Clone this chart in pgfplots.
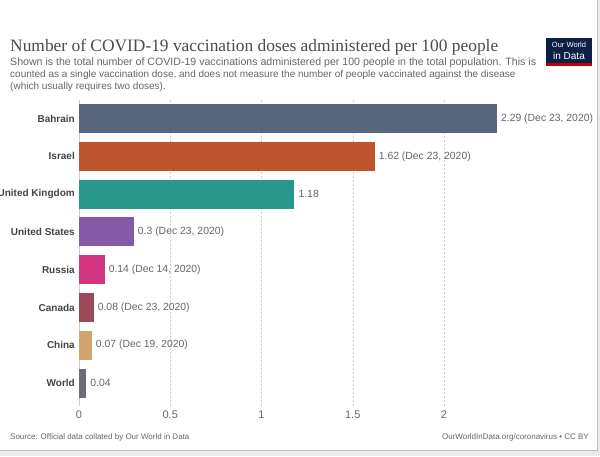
\documentclass[border=0pt]{standalone}
\usepackage{pgfplots}
\pgfplotsset{compat=1.18}
\usepackage{fontspec}
\setmainfont{Liberation Sans}
\newfontfamily\titlefont{Liberation Serif}
\definecolor{cBah}{HTML}{58657D}
\definecolor{cIsr}{HTML}{BF552E}
\definecolor{cUK}{HTML}{2A978C}
\definecolor{cUS}{HTML}{8659A6}
\definecolor{cRus}{HTML}{D3347F}
\definecolor{cCan}{HTML}{9C4A58}
\definecolor{cChn}{HTML}{D2A56E}
\definecolor{cWld}{HTML}{6C6D72}
\definecolor{txtgray}{HTML}{666666}
\definecolor{lblgray}{HTML}{444444}
\definecolor{owid}{HTML}{0B2045}
\begin{document}
\begin{tikzpicture}[x=1pt,y=1pt]
\useasboundingbox (0,0) rectangle (600,456);
\fill[white] (0,0) rectangle (600,456);
\fill[black!8] (597,0) rectangle (600,456);
\fill[black!8] (0,0) rectangle (600,6);
\draw[black!25,line width=0.8pt] (597,456) -- (597,6) -- (0,6);
% title
\node[anchor=base west,inner sep=0,text=black!70] at (10,404) {\titlefont\fontsize{17.4}{20}\selectfont Number of COVID-19 vaccination doses administered per 100 people};
\node[anchor=north west,inner sep=0,align=left,text=txtgray] at (10,398) {\fontsize{10.6}{13.2}\selectfont Shown is the total number of COVID-19 vaccinations administered per 100 people in the total population. This is\\counted as a single vaccination dose, and does not measure the number of people vaccinated against the disease\\(which usually requires two doses).};
% logo
\fill[owid] (546,393) rectangle (592,418);
\fill[red!75!black] (546,390) rectangle (592,393);
\node[text=white,align=center,inner sep=0] at (569,405.5) {\fontsize{7.5}{8.5}\selectfont Our World\\in Data};
% footer
\node[anchor=base west,inner sep=0,text=txtgray] at (10,17) {\fontsize{8}{10}\selectfont Source: Official data collated by Our World in Data};
\node[anchor=base east,inner sep=0,text=txtgray] at (589,17) {\fontsize{8}{10}\selectfont OurWorldInData.org/coronavirus • CC BY};
\begin{axis}[
  at={(79pt,54pt)}, anchor=south west,
  scale only axis, width=511pt, height=302.4pt,
  xmin=0, xmax=2.8, ymin=-0.5, ymax=7.5, y dir=reverse,
  axis lines=none,
  xbar, bar width=29pt,
  ytick={0,...,7},
  yticklabels={Bahrain,Israel,United Kingdom,United States,Russia,Canada,China,World},
  xtick={0,0.5,1,1.5,2},
  clip=false,
  point meta=explicit symbolic,
  nodes near coords,
  every node near coord/.append style={font=\fontsize{10.4}{12}\selectfont, text=txtgray, anchor=west, inner sep=0, xshift=4pt},
]
\foreach \xv in {0.5,1,1.5,2}{
  \edef\tmp{\noexpand\draw[black!20,dashed,dash pattern=on 2pt off 2pt] (axis cs:\xv,-0.5) -- (axis cs:\xv,7.6);}
  \tmp
}
\draw[black!20] (axis cs:0,-0.5) -- (axis cs:0,7.6);
\foreach \xv/\lab in {0/0,0.5/0.5,1/1,1.5/1.5,2/2}{
  \edef\tmp{\noexpand\node[text=txtgray,font=\noexpand\fontsize{11}{12}\noexpand\selectfont] at (axis cs:\xv,7.5) [yshift=-13pt] {\lab};}
  \tmp
}
\foreach \yv/\lab in {0/Bahrain,1/Israel,2/United Kingdom,3/United States,4/Russia,5/Canada,6/China,7/World}{
  \edef\tmp{\noexpand\node[anchor=east,text=lblgray,inner sep=0,font=\noexpand\bfseries\noexpand\fontsize{10}{11}\noexpand\selectfont] at (axis cs:0,\yv) [xshift=-4pt] {\lab};}
  \tmp
}
\addplot[fill=cBah,draw=none,bar shift=0pt] coordinates {(2.29,0) [2.29 (Dec 23, 2020)]};
\addplot[fill=cIsr,draw=none,bar shift=0pt] coordinates {(1.62,1) [1.62 (Dec 23, 2020)]};
\addplot[fill=cUK,draw=none,bar shift=0pt] coordinates {(1.18,2) [1.18]};
\addplot[fill=cUS,draw=none,bar shift=0pt] coordinates {(0.30,3) [0.3 (Dec 23, 2020)]};
\addplot[fill=cRus,draw=none,bar shift=0pt] coordinates {(0.14,4) [0.14 (Dec 14, 2020)]};
\addplot[fill=cCan,draw=none,bar shift=0pt] coordinates {(0.08,5) [0.08 (Dec 23, 2020)]};
\addplot[fill=cChn,draw=none,bar shift=0pt] coordinates {(0.07,6) [0.07 (Dec 19, 2020)]};
\addplot[fill=cWld,draw=none,bar shift=0pt] coordinates {(0.04,7) [0.04]};
\end{axis}
\end{tikzpicture}
\end{document}
